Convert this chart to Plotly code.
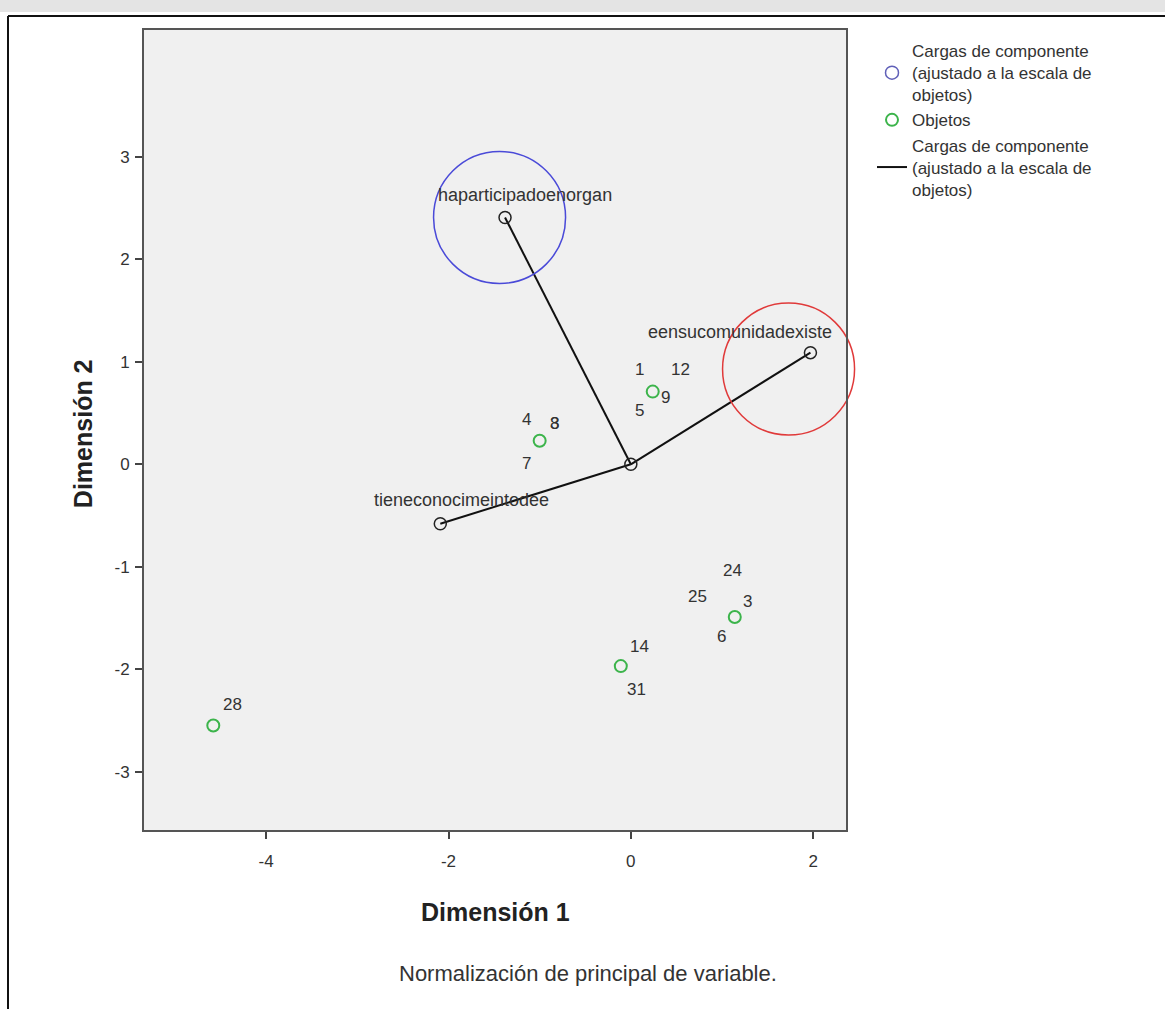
import plotly.graph_objects as go

# ---- data ----
obj_x = [0.24, -1.00, 1.14, -0.11, -4.58]
obj_y = [0.71, 0.23, -1.49, -1.97, -2.55]
# labels per object point: (label, dx, dy) offsets in px
obj_labels = [
    [("1", -13, -22), ("12", 28, -22), ("9", 13, 6), ("5", -13, 19)],
    [("4", -13, -21), ("3", 15, -17), ("8", 15, -17), ("7", -13, 23)],
    [("24", -2, -46), ("25", -37, -20), ("3", 13, -15), ("6", -13, 20)],
    [("14", 19, -20), ("31", 16, 23)],
    [("28", 19, -21)],
]
load_names = ["haparticipadoenorgan", "eensucomunidadexiste", "tieneconocimeintodee"]
load_x = [-1.38, 1.97, -2.09]
load_y = [2.41, 1.09, -0.58]
load_label_shift = [(20, 22), (-70, 21), (21, 24)]
highlight_x = [-1.44, 1.73]
highlight_y = [2.41, 0.93]
highlight_colors = ["#4a4ad8", "#e03a3a"]
x_ticks = [-4, -2, 0, 2]
x_ticktext = ["-4", "-2", "0", "2"]
y_ticks = [-3, -2, -1, 0, 1, 2, 3]
y_ticktext = ["-3", "-2", "-1", "0", "1", "2", "3"]

legend_name = "Cargas de componente<br>(ajustado a la escala de<br>objetos)"
FONT = "Liberation Sans, Arial, sans-serif"
TXT = "#333333"

fig = go.Figure()

# legend-only entry for component loadings (blue circle)
fig.add_trace(go.Scatter(
    x=[None], y=[None], mode="markers", name=legend_name,
    marker=dict(symbol="circle-open", size=13, color="#6060b8", line=dict(width=1.5)),
))

# objects
fig.add_trace(go.Scatter(
    x=obj_x, y=obj_y, mode="markers", name="Objetos",
    marker=dict(symbol="circle-open", size=12, color="#3cb44b", line=dict(width=2)),
))

# loading vectors
lx, ly = [], []
for x, y in zip(load_x, load_y):
    lx += [0, x, None]
    ly += [0, y, None]
fig.add_trace(go.Scatter(
    x=lx, y=ly, mode="lines", name=legend_name,
    line=dict(color="#111111", width=2),
))

# loading end markers + origin
fig.add_trace(go.Scatter(
    x=load_x + [0], y=load_y + [0], mode="markers", showlegend=False,
    marker=dict(symbol="circle-open", size=12, color="#222222", line=dict(width=1.5)),
))

# highlight circles
fig.add_trace(go.Scatter(
    x=highlight_x, y=highlight_y, mode="markers", showlegend=False, cliponaxis=False,
    marker=dict(symbol="circle-open", size=132, color=highlight_colors, line=dict(width=1.5)),
))

annotations = []
for name, x, y, (sx, sy) in zip(load_names, load_x, load_y, load_label_shift):
    annotations.append(dict(x=x, y=y, xref="x", yref="y", text=name, showarrow=False,
                            xshift=sx, yshift=sy, font=dict(size=18, color=TXT, family=FONT)))
for x, y, labs in zip(obj_x, obj_y, obj_labels):
    for t, dx, dy in labs:
        annotations.append(dict(x=x, y=y, xref="x", yref="y", text=t, showarrow=False,
                                xshift=dx, yshift=-dy, font=dict(size=17, color=TXT, family=FONT)))

annotations += [
    dict(x=0.5, y=-0.102, xref="paper", yref="paper", text="<b>Dimensión 1</b>", showarrow=False,
         xanchor="center", yanchor="middle", font=dict(size=25, color="#222222", family=FONT)),
    dict(x=-0.087, y=0.496, xref="paper", yref="paper", text="<b>Dimensión 2</b>", showarrow=False,
         xanchor="center", yanchor="middle",
         textangle=-90, font=dict(size=25, color="#222222", family=FONT)),
    dict(x=0.632, y=-0.1796, xref="paper", yref="paper", text="Normalización de principal de variable.",
         xanchor="center", yanchor="middle",
         showarrow=False, font=dict(size=22, color=TXT, family=FONT)),
]

W, H = 1165, 1009
L, R, T, B = 144, 319, 30, 179
pw, ph = W - L - R, H - T - B


def px(xp):
    return (xp - L) / pw


def py(yp):
    return (H - B - yp) / ph


shapes = [
    dict(type="rect", xref="paper", yref="paper", x0=px(0), x1=px(W), y0=py(12), y1=py(0),
         fillcolor="#e4e4e4", line=dict(width=0), layer="below"),
    dict(type="line", xref="paper", yref="paper", x0=px(8), x1=px(W), y0=py(16), y1=py(16),
         line=dict(color="#111111", width=2)),
    dict(type="line", xref="paper", yref="paper", x0=px(8), x1=px(8), y0=py(16), y1=py(H),
         line=dict(color="#111111", width=2)),
]

fig.update_layout(
    width=W, height=H,
    margin=dict(l=L, r=R, t=T, b=B),
    paper_bgcolor="white", plot_bgcolor="#f0f0f0",
    font=dict(family=FONT, color=TXT),
    showlegend=True,
    legend=dict(x=px(872), y=py(33), xanchor="left", yanchor="top",
                font=dict(size=17, color=TXT, family=FONT), bgcolor="rgba(0,0,0,0)",
                tracegroupgap=0, itemwidth=30),
    annotations=annotations,
    shapes=shapes,
)
fig.update_xaxes(range=[-5.34, 2.36], tickvals=x_ticks, ticktext=x_ticktext, showgrid=False,
                 zeroline=False, showline=True, mirror=True, linecolor="#555555", linewidth=2,
                 ticks="outside", ticklen=7, tickcolor="#444444", tickwidth=2,
                 tickfont=dict(size=17, color=TXT), ticklabelstandoff=8)
fig.update_yaxes(range=[-3.57, 4.24], tickvals=y_ticks, ticktext=y_ticktext, showgrid=False,
                 zeroline=False, showline=True, mirror=True, linecolor="#555555", linewidth=2,
                 ticks="outside", ticklen=7, tickcolor="#444444", tickwidth=2,
                 tickfont=dict(size=17, color=TXT), ticklabelstandoff=2)

fig.write_html("out.html")
